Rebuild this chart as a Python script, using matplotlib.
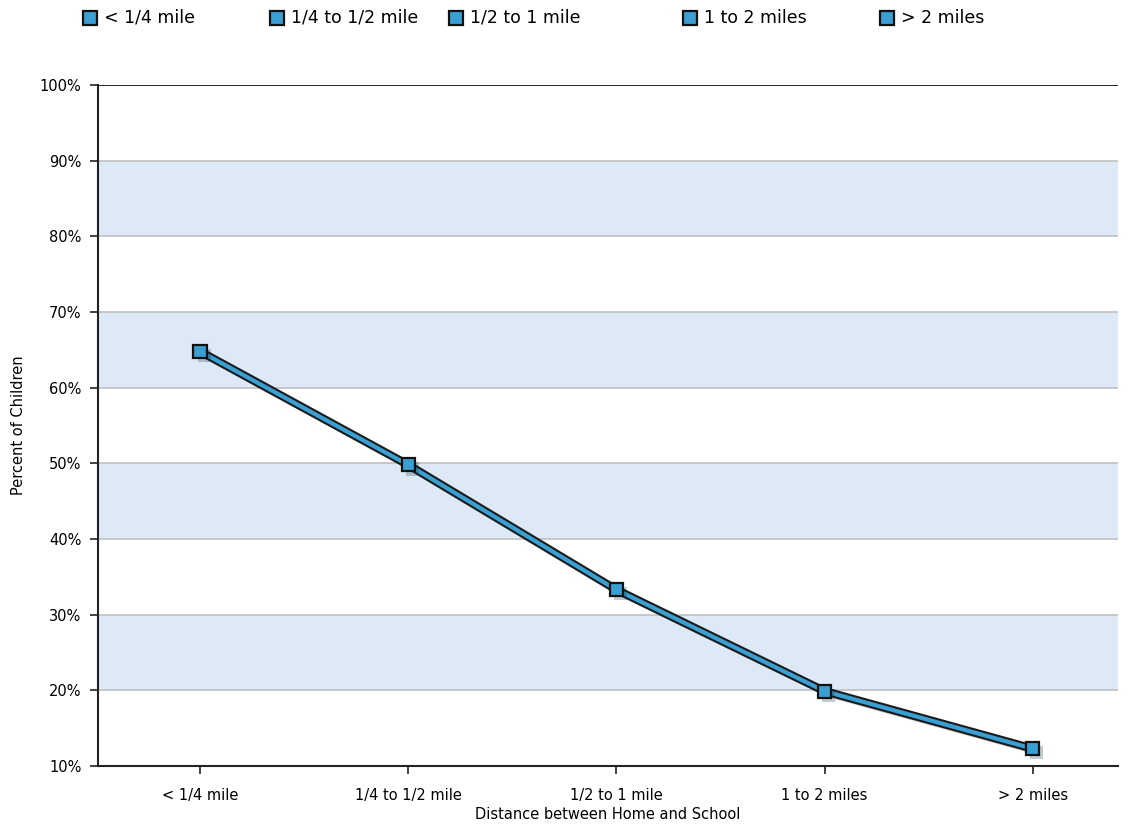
import matplotlib
matplotlib.use("Agg")
import matplotlib.pyplot as plt
import matplotlib.patheffects as pe
from matplotlib.lines import Line2D

plt.rcParams["font.family"] = ["DejaVu Sans"]

categories = ["< 1/4 mile", "1/4 to 1/2 mile", "1/2 to 1 mile", "1 to 2 miles", "> 2 miles"]
percent = [64.8, 49.8, 33.3, 19.9, 12.3]
yticks = [10, 20, 30, 40, 50, 60, 70, 80, 90, 100]
bands = [(20, 30), (40, 50), (60, 70), (80, 90)]

blue = "#3a9fd3"
fig = plt.figure(figsize=(11.31, 8.34), dpi=100)
ax = fig.add_axes([0.0867, 0.0815, 0.9018, 0.8165])

for lo, hi in bands:
    ax.axhspan(lo, hi, color="#dde9f6", lw=0, zorder=0)
for y in yticks[1:-1]:
    ax.axhline(y, color="#c0c0c0", lw=1.2, zorder=1)
ax.axhline(100, color="black", lw=1.2, zorder=2)

x = range(len(categories))
ax.plot(x, percent, color=blue, lw=3, zorder=3, solid_capstyle="butt",
        path_effects=[pe.SimpleLineShadow(offset=(3, -3), shadow_color="#777777", alpha=0.35),
                      pe.Stroke(linewidth=6, foreground="#1a1a1a"), pe.Normal()])
ax.plot(x, percent, ls="none", marker="s", markersize=9.5, markerfacecolor=blue,
        markeredgecolor="#111111", markeredgewidth=1.6, zorder=4,
        path_effects=[pe.SimplePatchShadow(offset=(3, -3), alpha=0.25), pe.Normal()])

ax.set_xlim(-0.49, 4.41)
ax.set_ylim(10, 100)
ax.set_yticks(yticks)
ax.set_yticklabels([f"{v}%" for v in yticks], fontsize=10.5)
ax.set_xticks(list(x))
ax.set_xticklabels(categories, fontsize=10.5)
ax.tick_params(axis="y", direction="out", length=6, width=1.2, color="#222222", pad=6)
ax.tick_params(axis="x", direction="out", length=6, width=1.2, color="#222222", pad=10)
for s in ["top", "right"]:
    ax.spines[s].set_visible(False)
for s in ["left", "bottom"]:
    ax.spines[s].set_linewidth(1.5)
    ax.spines[s].set_color("#222222")
ax.set_xlabel("Distance between Home and School", fontsize=10.5, labelpad=3)
ax.set_ylabel("Percent of Children", fontsize=10.5, labelpad=10)

# legend row across the top
leg_x = [90, 277, 456, 690, 887]
for lx, lab in zip(leg_x, categories):
    fig.add_artist(Line2D([lx / 1131], [1 - 18 / 834], transform=fig.transFigure,
                          marker="s", markersize=10.5, markerfacecolor=blue,
                          markeredgecolor="#111111", markeredgewidth=1.6))
    fig.text((lx + 14) / 1131, 1 - 18 / 834, lab, fontsize=12.5, va="center", ha="left")

fig.savefig("out.png", dpi=100)
